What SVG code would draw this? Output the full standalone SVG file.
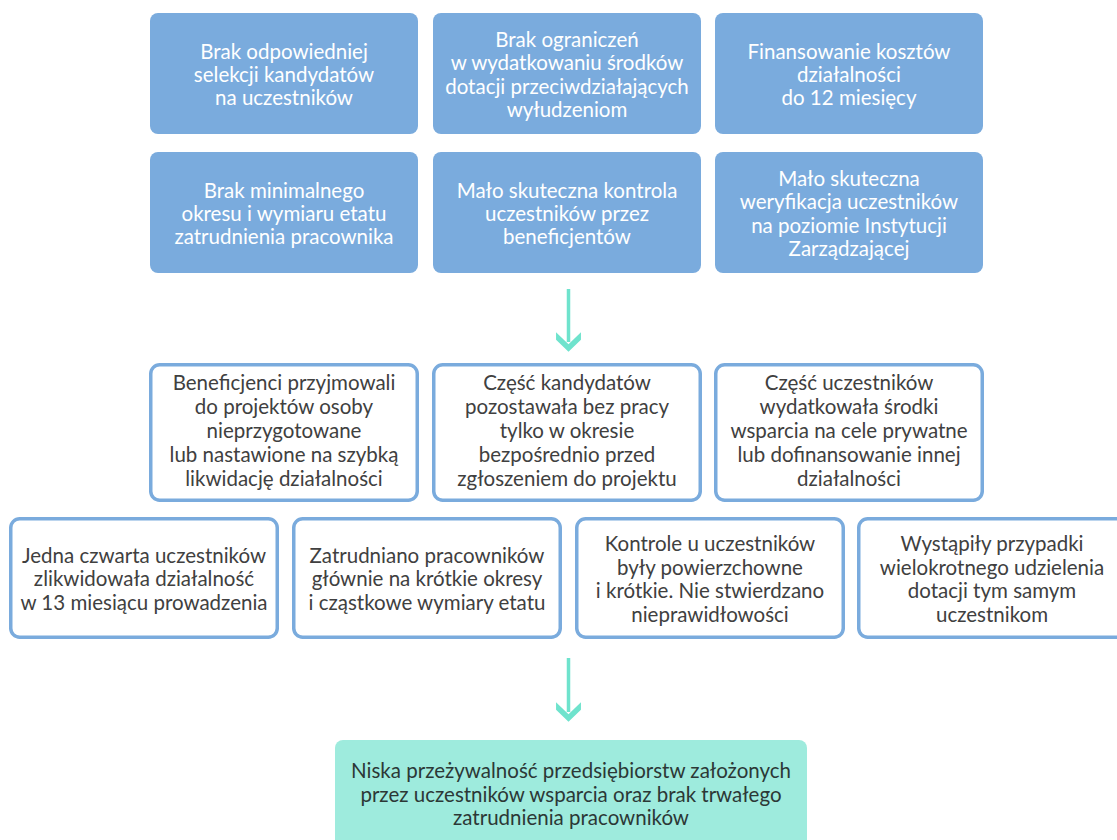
<svg xmlns="http://www.w3.org/2000/svg" width="1117" height="840" viewBox="0 0 1117 840">
<style>
.solid{fill:#7aabdd}
.out{fill:#ffffff;stroke:#7aabdd;stroke-width:3.5}
.fin{fill:#9eebdd}
text{font-family:Lato,"Open Sans","DejaVu Sans",sans-serif;font-size:20.5px;text-anchor:middle}
.w{fill:#ffffff}
.d{fill:#404040}
.f{fill:#2c3836}
.conn{stroke:#6fe3cd;stroke-width:3.5;fill:none}
</style>
<defs>
<marker id="head" markerUnits="userSpaceOnUse" markerWidth="24" markerHeight="26" viewBox="0 -12 20 24" refX="9" refY="0" orient="auto" overflow="visible">
<polygon points="0,-11.5 11,0 0,11.5 7,11.5 18,0 7,-11.5" fill="#6fe3cd"/>
</marker>
</defs>
<rect width="1117" height="840" fill="#ffffff"/>

<g id="n1"><rect class="solid" x="150" y="13" width="268" height="121" rx="8"/>
<text class="w" x="284" y="59">Brak odpowiedniej</text><text class="w" x="284" y="82">selekcji kandydatów</text><text class="w" x="284" y="105">na uczestników</text></g>
<g id="n2"><rect class="solid" x="433" y="13" width="268" height="121" rx="8"/>
<text class="w" x="567" y="47">Brak ograniczeń</text><text class="w" x="567" y="70.3">w wydatkowaniu środków</text><text class="w" x="567" y="93.6">dotacji przeciwdziałających</text><text class="w" x="567" y="117">wyłudzeniom</text></g>
<g id="n3"><rect class="solid" x="715" y="13" width="268" height="121" rx="8"/>
<text class="w" x="849" y="59">Finansowanie kosztów</text><text class="w" x="849" y="82">działalności</text><text class="w" x="849" y="105">do 12 miesięcy</text></g>

<g id="n4"><rect class="solid" x="150" y="152" width="268" height="121" rx="8"/>
<text class="w" x="284" y="197.5">Brak minimalnego</text><text class="w" x="284" y="220.5">okresu i wymiaru etatu</text><text class="w" x="284" y="243.5">zatrudnienia pracownika</text></g>
<g id="n5"><rect class="solid" x="433" y="152" width="268" height="121" rx="8"/>
<text class="w" x="567" y="197.5">Mało skuteczna kontrola</text><text class="w" x="567" y="220.5">uczestników przez</text><text class="w" x="567" y="243.5">beneficjentów</text></g>
<g id="n6"><rect class="solid" x="715" y="152" width="268" height="121" rx="8"/>
<text class="w" x="849" y="186">Mało skuteczna</text><text class="w" x="849" y="209.3">weryfikacja uczestników</text><text class="w" x="849" y="232.6">na poziomie Instytucji</text><text class="w" x="849" y="256">Zarządzającej</text></g>

<g id="n7"><rect class="out" x="150.75" y="364.75" width="266.5" height="135.5" rx="9"/>
<text class="d" x="284" y="390">Beneficjenci przyjmowali</text><text class="d" x="284" y="414">do projektów osoby</text><text class="d" x="284" y="438">nieprzygotowane</text><text class="d" x="284" y="462">lub nastawione na szybką</text><text class="d" x="284" y="486">likwidację działalności</text></g>
<g id="n8"><rect class="out" x="433.75" y="364.75" width="266.5" height="135.5" rx="9"/>
<text class="d" x="567" y="390">Część kandydatów</text><text class="d" x="567" y="414">pozostawała bez pracy</text><text class="d" x="567" y="438">tylko w okresie</text><text class="d" x="567" y="462">bezpośrednio przed</text><text class="d" x="567" y="486">zgłoszeniem do projektu</text></g>
<g id="n9"><rect class="out" x="715.75" y="364.75" width="266.5" height="135.5" rx="9"/>
<text class="d" x="849" y="390">Część uczestników</text><text class="d" x="849" y="414">wydatkowała środki</text><text class="d" x="849" y="438">wsparcia na cele prywatne</text><text class="d" x="849" y="462">lub dofinansowanie innej</text><text class="d" x="849" y="486">działalności</text></g>

<g id="n10"><rect class="out" x="10.75" y="518.75" width="266.5" height="118.5" rx="9"/>
<text class="d" x="144" y="562.5">Jedna czwarta uczestników</text><text class="d" x="144" y="586">zlikwidowała działalność</text><text class="d" x="144" y="609.5">w 13 miesiącu prowadzenia</text></g>
<g id="n11"><rect class="out" x="293.75" y="518.75" width="266.5" height="118.5" rx="9"/>
<text class="d" x="427" y="562.5">Zatrudniano pracowników</text><text class="d" x="427" y="586">głównie na krótkie okresy</text><text class="d" x="427" y="609.5">i cząstkowe wymiary etatu</text></g>
<g id="n12"><rect class="out" x="576.75" y="518.75" width="266.5" height="118.5" rx="9"/>
<text class="d" x="710" y="551">Kontrole u uczestników</text><text class="d" x="710" y="574.5">były powierzchowne</text><text class="d" x="710" y="598">i krótkie. Nie stwierdzano</text><text class="d" x="710" y="621.5">nieprawidłowości</text></g>
<g id="n13"><rect class="out" x="858.75" y="518.75" width="266.5" height="118.5" rx="9"/>
<text class="d" x="992" y="551">Wystąpiły przypadki</text><text class="d" x="992" y="574.5">wielokrotnego udzielenia</text><text class="d" x="992" y="598">dotacji tym samym</text><text class="d" x="992" y="621.5">uczestnikom</text></g>

<g id="n14"><rect class="fin" x="335" y="740" width="472" height="120" rx="8"/>
<text class="f" x="571" y="778">Niska przeżywalność przedsiębiorstw założonych</text><text class="f" x="571" y="801.5">przez uczestników wsparcia oraz brak trwałego</text><text class="f" x="571" y="825">zatrudnienia pracowników</text></g>

<g id="connectors">
<path class="conn" d="M568.5 289 V342" marker-end="url(#head)"/>
<path class="conn" d="M568.5 658 V712" marker-end="url(#head)"/>
</g>
</svg>
